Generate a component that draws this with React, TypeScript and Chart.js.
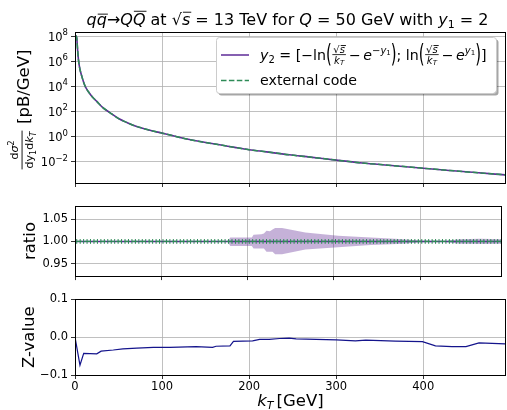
import React, { useEffect, useRef } from 'react';
import { Chart, registerables } from 'chart.js';
Chart.register(...registerables);

const FAMILY = '"DejaVu Sans", sans-serif';

// ---------------- data ----------------
const KT_MIN = 0;
const KT_MAX = 495;
const xTicks = [0, 100, 200, 300, 400];

const spectrumKt = [1, 2, 3, 4, 5, 6, 8, 10, 12, 15, 20, 25, 32, 40, 50, 60, 70, 85, 100, 115, 130, 150, 166, 185, 200, 220, 246, 270, 300, 330, 360, 400, 430, 460, 494];
const spectrumOurs = [1.1e8, 7.0e7, 8.0e6, 1.25e6, 4.0e5, 1.8e5, 5.6e4, 2.0e4, 8.9e3, 4.0e3, 1.4e3, 6.3e2, 2.0e2, 80, 27, 12.6, 6.6, 3.3, 1.86, 1.05, 0.6, 0.33, 0.22, 0.13, 0.089, 0.06, 0.035, 0.023, 0.0132, 0.0079, 0.0052, 0.003, 0.002, 0.00135, 0.00089];
const spectrumExternal = [1.1e8, 7.0e7, 8.0e6, 1.25e6, 4.0e5, 1.8e5, 5.6e4, 2.0e4, 8.9e3, 4.0e3, 1.4e3, 6.3e2, 2.0e2, 80, 27, 12.6, 6.6, 3.3, 1.86, 1.05, 0.6, 0.33, 0.22, 0.13, 0.089, 0.06, 0.035, 0.023, 0.0132, 0.0079, 0.0052, 0.003, 0.002, 0.00135, 0.00089];
const yLogExponents = [-2, 0, 2, 4, 6, 8];

const bandKt = [0, 177, 180, 205, 207, 216, 219, 222, 226, 229, 232, 240, 267, 305, 343, 381, 400, 430, 445, 470, 495];
const bandUpper = [1.0, 1.0, 1.009, 1.009, 1.015, 1.016, 1.018, 1.024, 1.023, 1.027, 1.03, 1.03, 1.02, 1.013, 1.009, 1.005, 1.002, 1.001, 1.005, 1.006, 1.005];
const bandLower = [1.0, 1.0, 0.99, 0.99, 0.984, 0.984, 0.984, 0.977, 0.977, 0.977, 0.971, 0.971, 0.982, 0.987, 0.992, 0.995, 0.998, 0.999, 0.995, 0.994, 0.995];
const ratioOursKt = [0, 495];
const ratioOurs = [1.0, 1.0];
const ratioExternalValue = 1.0;
const ratioSampleStep = 4;
const ratioSampleStart = 2;
const ratioTicks = [0.95, 1.0, 1.05];

const zKt = [0, 5.7, 10, 25, 30, 44, 55, 71, 90, 109, 139, 158, 162, 178, 182, 204, 212, 223, 235, 246, 254, 300, 322, 334, 368, 399, 414, 433, 449, 464, 479, 494];
const zVal = [0.0, -0.074, -0.043, -0.044, -0.037, -0.034, -0.031, -0.029, -0.027, -0.027, -0.025, -0.027, -0.024, -0.023, -0.011, -0.0097, -0.006, -0.006, -0.0035, -0.0026, -0.0044, -0.007, -0.0097, -0.008, -0.0105, -0.012, -0.023, -0.025, -0.025, -0.015, -0.0167, -0.018];
const zTicks = [-0.1, 0.0, 0.1];

// ---------------- styles ----------------
const PURPLE = '#5e2b97';
const GREEN = '#2e8b57';
const NAVY = '#14148c';
const BAND = 'rgba(102,51,153,0.38)';
const GRID = '#b0b0b0';

const W = 507;
const H1 = 196, H2 = 90, H3 = 124;
const T2 = 196, T3 = 286;

// ---------------- rich text ----------------
type Seg = { t?: string; s?: number; i?: boolean; dy?: number; ob?: number; sx?: number; gap?: number; frac?: [Seg[], Seg[]] };

function fontOf(seg: Seg, base: number) {
  return `${seg.i ? 'italic ' : ''}${seg.s ?? base}px ${FAMILY}`;
}
function segW(ctx: CanvasRenderingContext2D, seg: Seg, base: number): number {
  if (seg.gap !== undefined) return seg.gap;
  if (seg.frac) return Math.max(runW(ctx, seg.frac[0], base), runW(ctx, seg.frac[1], base)) + 3;
  ctx.font = fontOf(seg, base);
  return ctx.measureText(seg.t || '').width * (seg.sx ?? 1);
}
function runW(ctx: CanvasRenderingContext2D, segs: Seg[], base: number) {
  return segs.reduce((a, s) => a + segW(ctx, s, base), 0);
}
function drawRun(ctx: CanvasRenderingContext2D, segs: Seg[], x0: number, y: number, base: number) {
  let x = x0;
  ctx.textBaseline = 'alphabetic';
  ctx.textAlign = 'left';
  for (const seg of segs) {
    const w = segW(ctx, seg, base);
    if (seg.frac) {
      const axis = y - base * 0.34;
      const [num, den] = seg.frac;
      const nw = runW(ctx, num, base), dw = runW(ctx, den, base);
      ctx.fillRect(x + 0.5, axis - 0.4, w - 1, 0.8);
      drawRun(ctx, num, x + (w - nw) / 2, axis - 1.3, base);
      const ds = den[0].s ?? base;
      drawRun(ctx, den, x + (w - dw) / 2, axis + 1.8 + ds * 0.74, base);
    } else if (seg.t) {
      const size = seg.s ?? base;
      ctx.font = fontOf(seg, base);
      const yy = y + (seg.dy ?? 0);
      if (seg.sx) {
        ctx.save(); ctx.translate(x, yy); ctx.scale(seg.sx, 1); ctx.fillText(seg.t, 0, 0); ctx.restore();
      } else ctx.fillText(seg.t, x, yy);
      if (seg.ob) ctx.fillRect(x + (seg.i ? 1 : 0), yy - seg.ob * size - 0.45, w, 0.9);
    }
    x += w;
  }
}

const titleSegs: Seg[] = [
  { t: 'q', i: true }, { t: 'q', i: true, ob: 0.68 }, { t: '→' }, { t: 'Q', i: true }, { t: 'Q', i: true, ob: 0.86 },
  { t: ' at ' }, { t: '√' }, { t: 's', i: true, ob: 0.8 }, { t: ' = 13 TeV for ' }, { t: 'Q', i: true },
  { t: ' = 50 GeV with ' }, { t: 'y', i: true }, { t: '1', s: 11, dy: 3 }, { t: ' = 2' },
];
const fracSeg = (): Seg => ({
  frac: [
    [{ t: '√', s: 10 }, { t: 's', s: 10, i: true, ob: 0.78 }],
    [{ t: 'k', s: 10, i: true }, { t: 'T', s: 7, i: true, dy: 1.5 }],
  ],
});
const PAREN = { s: 24, dy: 2, sx: 0.62 };
const legendSegs: Seg[] = [
  { t: 'y', i: true }, { t: '2', s: 10, dy: 3 }, { t: ' = [−ln' },
  { t: '(', ...PAREN }, fracSeg(), { gap: 2.5 }, { t: '−' }, { gap: 2.5 }, { t: 'e', i: true },
  { t: '−', s: 10, dy: -6 }, { t: 'y', s: 10, i: true, dy: -6 }, { t: '1', s: 7, dy: -4.5 },
  { t: ')', ...PAREN }, { t: '; ln' },
  { t: '(', ...PAREN }, fracSeg(), { gap: 2.5 }, { t: '−' }, { gap: 2.5 }, { t: 'e', i: true },
  { t: 'y', s: 10, i: true, dy: -6 }, { t: '1', s: 7, dy: -4.5 },
  { t: ')', ...PAREN }, { t: ']' },
];

const fmtMinus = (s: string) => s.replace('-', '−');

// ---------------- plugins ----------------
const framePlugin = {
  id: 'frame',
  afterDraw(chart: any) {
    const { ctx, chartArea } = chart;
    const l = Math.round(chartArea.left) + 0.5, t = Math.round(chartArea.top) + 0.5;
    const r = Math.round(chartArea.right) - 0.5, b = Math.round(chartArea.bottom) + 0.5;
    ctx.save();
    ctx.strokeStyle = '#000';
    ctx.lineWidth = 1;
    ctx.strokeRect(l, t, r - l, b - t);
    ctx.restore();
  },
};

const topDecor = {
  id: 'topDecor',
  afterDraw(chart: any) {
    const { ctx, chartArea } = chart;
    const yScale = chart.scales.y;
    ctx.save();
    ctx.fillStyle = '#000';
    // title
    const tw = runW(ctx, titleSegs, 16);
    drawRun(ctx, titleSegs, (chartArea.left + chartArea.right) / 2 - tw / 2 - 3, 25, 16);

    // y tick labels 10^n
    for (const e of yLogExponents) {
      const py = yScale.getPixelForValue(Math.pow(10, e));
      const segs: Seg[] = [{ t: '10' }, { t: fmtMinus(String(e)), s: 8.5, dy: -5.5 }];
      const w = runW(ctx, segs, 11.5);
      drawRun(ctx, segs, 68 - w, py + 4.5, 11.5);
    }

    // y label (rotated)
    ctx.save();
    ctx.rotate(-Math.PI / 2);
    const num: Seg[] = [{ t: 'd' }, { t: 'σ', i: true }, { t: '2', s: 8, dy: -4.5 }];
    const den: Seg[] = [{ t: 'dy' }, { t: '1', s: 8, dy: 2.5 }, { t: 'd' }, { t: 'k', i: true }, { t: 'T', s: 8, i: true, dy: 2.5 }];
    const nw = runW(ctx, num, 11), dw = runW(ctx, den, 11);
    const fw = Math.max(nw, dw) + 2;
    const cx = -150;
    ctx.fillRect(cx - fw / 2, 21.6, fw, 0.9);
    drawRun(ctx, num, cx - nw / 2, 18, 11);
    drawRun(ctx, den, cx - dw / 2, 33, 11);
    drawRun(ctx, [{ t: '[pB/GeV]' }], -124, 29, 16.5);
    ctx.restore();

    // legend
    const lx = 216, ly = 37, lw = 280, lh = 56;
    const rr = (x: number, y: number) => {
      ctx.beginPath();
      ctx.roundRect(x, y, lw, lh, 3);
    };
    ctx.fillStyle = 'rgba(0,0,0,0.35)';
    rr(lx + 2.5, ly + 2.5); ctx.fill();
    ctx.fillStyle = '#fff';
    rr(lx, ly); ctx.fill();
    ctx.strokeStyle = '#cccccc'; ctx.lineWidth = 1;
    rr(lx + 0.5, ly + 0.5); ctx.stroke();

    ctx.lineWidth = 1.5;
    ctx.strokeStyle = PURPLE;
    ctx.beginPath(); ctx.moveTo(221, 55); ctx.lineTo(249, 55); ctx.stroke();
    ctx.strokeStyle = GREEN;
    ctx.setLineDash([5.5, 2.4]);
    ctx.beginPath(); ctx.moveTo(221, 80.5); ctx.lineTo(249, 80.5); ctx.stroke();
    ctx.setLineDash([]);

    ctx.fillStyle = '#000';
    drawRun(ctx, legendSegs, 260, 59.5, 14.2);
    drawRun(ctx, [{ t: 'external code' }], 260, 85, 14.2);
    ctx.restore();
  },
};

const ratioDecor = {
  id: 'ratioDecor',
  afterDraw(chart: any) {
    const { ctx, chartArea } = chart;
    ctx.save();
    ctx.fillStyle = '#000';
    ctx.rotate(-Math.PI / 2);
    const segs: Seg[] = [{ t: 'ratio' }];
    const w = runW(ctx, segs, 16.5);
    const cy = (chartArea.top + chartArea.bottom) / 2;
    drawRun(ctx, segs, -cy - w / 2, 35, 16.5);
    ctx.restore();
  },
};

const zDecor = {
  id: 'zDecor',
  afterDraw(chart: any) {
    const { ctx, chartArea } = chart;
    ctx.save();
    ctx.fillStyle = '#000';
    const xs: Seg[] = [{ t: 'k', i: true }, { t: 'T', s: 11, i: true, dy: 3 }, { gap: 3 }, { t: '[GeV]' }];
    const xw = runW(ctx, xs, 16.5);
    drawRun(ctx, xs, (chartArea.left + chartArea.right) / 2 - xw / 2, 119.5, 16.5);
    ctx.rotate(-Math.PI / 2);
    const segs: Seg[] = [{ t: 'Z-value' }];
    const w = runW(ctx, segs, 16.5);
    const cy = (chartArea.top + chartArea.bottom) / 2;
    drawRun(ctx, segs, -cy - w / 2, 33.5, 16.5);
    ctx.restore();
  },
};

// ---------------- config helpers ----------------
const tickFont = { family: FAMILY, size: 11.5 };

function xScale(showLabels: boolean, height: number) {
  return {
    type: 'linear',
    min: KT_MIN,
    max: KT_MAX,
    afterBuildTicks: (s: any) => { s.ticks = xTicks.map((v) => ({ value: v })); },
    afterFit: (s: any) => { s.height = height; },
    grid: { color: GRID, lineWidth: 0.8, tickColor: '#000', tickLength: 4, drawTicks: true },
    border: { display: false },
    ticks: { display: showLabels, color: '#000', font: tickFont, padding: 1, maxRotation: 0, autoSkip: false, callback: (v: any) => String(v) },
  };
}
function yBase(ticks: number[], fmt: (v: number) => string, showLabels = true) {
  return {
    afterBuildTicks: (s: any) => { s.ticks = ticks.map((v) => ({ value: v })); },
    afterFit: (s: any) => { s.width = 75; },
    grid: { color: GRID, lineWidth: 0.8, tickColor: '#000', tickLength: 4, drawTicks: true },
    border: { display: false },
    ticks: { display: showLabels, color: '#000', font: tickFont, padding: 3, autoSkip: false, callback: (v: any) => fmt(Number(v)) },
  };
}
const commonOpts = (padTop: number) => ({
  responsive: false,
  animation: false,
  devicePixelRatio: 1,
  events: [],
  layout: { padding: { top: padTop, right: 1, bottom: 0, left: 0 } },
  plugins: { legend: { display: false }, tooltip: { enabled: false }, title: { display: false } },
});
const pts = (xs: number[], ys: number[]) => xs.map((x, i) => ({ x, y: ys[i] }));

export default function App() {
  const r1 = useRef<HTMLCanvasElement>(null);
  const r2 = useRef<HTMLCanvasElement>(null);
  const r3 = useRef<HTMLCanvasElement>(null);

  useEffect(() => {
    const c1 = new Chart(r1.current as HTMLCanvasElement, {
      type: 'line',
      data: {
        datasets: [
          { order: 2, data: pts(spectrumKt, spectrumOurs), borderColor: PURPLE, borderWidth: 1.6, pointRadius: 0, cubicInterpolationMode: 'monotone' },
          { order: 1, data: pts(spectrumKt, spectrumExternal), borderColor: GREEN, borderWidth: 1.5, borderDash: [5.5, 2.4], pointRadius: 0, cubicInterpolationMode: 'monotone' },
        ],
      } as any,
      options: {
        ...commonOpts(32),
        scales: {
          x: xScale(false, 13),
          y: {
            type: 'logarithmic',
            min: Math.pow(10, -3.7),
            max: Math.pow(10, 8.32),
            ...yBase(yLogExponents.map((e) => Math.pow(10, e)), (v) => String(v), false),
          },
        },
      } as any,
      plugins: [framePlugin, topDecor],
    });

    const ratioSamplesKt: number[] = [];
    for (let k = ratioSampleStart; k <= KT_MAX; k += ratioSampleStep) ratioSamplesKt.push(k);

    const c2 = new Chart(r2.current as HTMLCanvasElement, {
      type: 'line',
      data: {
        datasets: [
          { order: 4, data: pts(bandKt, bandUpper), borderWidth: 0, pointRadius: 0, fill: '+1', backgroundColor: BAND },
          { order: 3, data: pts(bandKt, bandLower), borderWidth: 0, pointRadius: 0, fill: false },
          { order: 2, data: pts(ratioOursKt, ratioOurs), borderColor: PURPLE, borderWidth: 1.5, pointRadius: 0 },
          {
            order: 1,
            data: ratioSamplesKt.map((x) => ({ x, y: ratioExternalValue })),
            borderColor: GREEN, borderWidth: 1.3, borderDash: [5.5, 2.4],
            pointStyle: 'line', pointRotation: 90, pointRadius: 2.4, pointBorderColor: GREEN, pointBorderWidth: 1,
          },
        ],
      } as any,
      options: {
        ...commonOpts(7.3),
        scales: {
          x: xScale(false, 7),
          y: { type: 'linear', min: 0.922, max: 1.08, ...yBase(ratioTicks, (v) => v.toFixed(2)) },
        },
      } as any,
      plugins: [framePlugin, ratioDecor],
    });

    const c3 = new Chart(r3.current as HTMLCanvasElement, {
      type: 'line',
      data: {
        datasets: [
          { data: pts(zKt, zVal), borderColor: NAVY, borderWidth: 1.2, pointRadius: 0 },
        ],
      } as any,
      options: {
        ...commonOpts(13.3),
        scales: {
          x: xScale(true, 35),
          y: { type: 'linear', min: -0.1, max: 0.1, ...yBase(zTicks, (v) => fmtMinus(v.toFixed(1))) },
        },
      } as any,
      plugins: [framePlugin, zDecor],
    });

    return () => { c1.destroy(); c2.destroy(); c3.destroy(); };
  }, []);

  return (
    <div style={{ position: 'fixed', left: 0, top: 0, width: W, height: 410, background: '#fff' }}>
      <canvas ref={r1} width={W} height={H1} style={{ position: 'absolute', left: 0, top: 0 }} />
      <canvas ref={r2} width={W} height={H2} style={{ position: 'absolute', left: 0, top: T2 }} />
      <canvas ref={r3} width={W} height={H3} style={{ position: 'absolute', left: 0, top: T3 }} />
    </div>
  );
}
